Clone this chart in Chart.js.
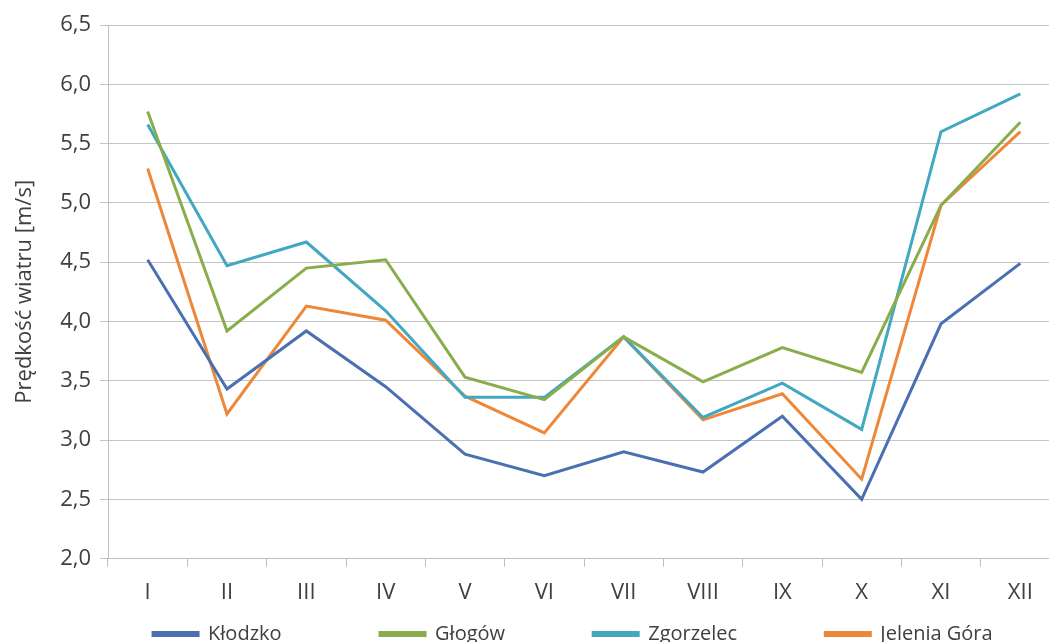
<!DOCTYPE html>
<html lang="pl">
<head>
    <meta charset="UTF-8">
    <title>Prędkość wiatru</title>
    <script src="https://cdn.jsdelivr.net/npm/chart.js"></script>
    <style>
        body {
            margin: 0;
            padding: 0;
            background: #ffffff;
            overflow: hidden;
        }
        .chart-box {
            width: 1060px;
            height: 654px;
        }
    </style>
</head>
<body>
    <div class="chart-box">
        <canvas id="windChart"></canvas>
    </div>

    <script>
// months (Roman numerals)
const months = ['I', 'II', 'III', 'IV', 'V', 'VI', 'VII', 'VIII', 'IX', 'X', 'XI', 'XII'];

// mean wind speed [m/s]
const klodzko = [4.52, 3.43, 3.92, 3.45, 2.88, 2.70, 2.90, 2.73, 3.20, 2.50, 3.98, 4.49];
const glogow = [5.77, 3.92, 4.45, 4.52, 3.53, 3.34, 3.87, 3.49, 3.78, 3.57, 4.98, 5.68];
const zgorzelec = [5.66, 4.47, 4.67, 4.09, 3.36, 3.36, 3.87, 3.19, 3.48, 3.09, 5.60, 5.92];
const jeleniaGora = [5.29, 3.22, 4.13, 4.01, 3.37, 3.06, 3.87, 3.17, 3.39, 2.67, 4.98, 5.60];

const seriesNames = ['Kłodzko', 'Głogów', 'Zgorzelec', 'Jelenia Góra'];
const seriesColors = ['#4a70b2', '#89ad4b', '#42a8c2', '#ef8738'];

const yTicks = [2.0, 2.5, 3.0, 3.5, 4.0, 4.5, 5.0, 5.5, 6.0, 6.5];

// trailing blanks after each legend entry (Excel spreads the legend wide)
const legendGaps = [18, 16, 16, 12];

const font = "'Open Sans', 'Noto Sans', sans-serif";
const textColor = '#404040';

function makeSet(label, data, color) {
    return {
        label: label,
        data: data,
        borderColor: color,
        backgroundColor: color,
        borderWidth: 3,
        pointRadius: 0,
        tension: 0,
        fill: false
    };
}

const ctx = document.getElementById('windChart').getContext('2d');
const windChart = new Chart(ctx, {
    type: 'line',
    data: {
        labels: months,
        datasets: [
            makeSet(seriesNames[0], klodzko, seriesColors[0]),
            makeSet(seriesNames[1], glogow, seriesColors[1]),
            makeSet(seriesNames[2], zgorzelec, seriesColors[2]),
            makeSet(seriesNames[3], jeleniaGora, seriesColors[3])
        ]
    },
    options: {
        responsive: true,
        maintainAspectRatio: false,
        animation: false,
        layout: {
            padding: { top: 25, left: 0, right: 0, bottom: 0 }
        },
        plugins: {
            legend: {
                position: 'bottom',
                align: 'end',
                labels: {
                    color: textColor,
                    font: { family: font, size: 20 },
                    boxWidth: 45,
                    boxHeight: 3,
                    padding: 5,
                    generateLabels: function(chart) {
                        const items = Chart.defaults.plugins.legend.labels.generateLabels(chart);
                        items.forEach(function(item, i) {
                            item.text = item.text + ' '.repeat(legendGaps[i]);
                        });
                        return items;
                    }
                }
            },
            tooltip: { enabled: false }
        },
        scales: {
            x: {
                offset: true,
                grid: {
                    offset: true,
                    drawOnChartArea: false,
                    drawTicks: true,
                    tickLength: 8,
                    color: '#bfbfbf'
                },
                border: { color: '#bfbfbf' },
                ticks: {
                    color: textColor,
                    font: { family: font, size: 22 },
                    padding: 13,
                    maxRotation: 0
                }
            },
            y: {
                min: 2,
                max: 6.5,
                afterBuildTicks: function(scale) {
                    scale.ticks = yTicks.map(function(v) { return { value: v }; });
                },
                afterFit: function(scale) {
                    scale.width = 108;
                },
                grid: {
                    color: '#c4c4c4',
                    tickLength: 8
                },
                border: { color: '#bfbfbf' },
                ticks: {
                    color: textColor,
                    font: { family: font, size: 22 },
                    padding: 9,
                    callback: function(v) {
                        return Number(v).toFixed(1).replace('.', ',');
                    }
                },
                title: {
                    display: true,
                    text: 'Prędkość wiatru [m/s]',
                    color: textColor,
                    font: { family: font, size: 22 },
                    padding: { top: 12, bottom: 20 }
                }
            }
        }
    }
});
    </script>
</body>
</html>
